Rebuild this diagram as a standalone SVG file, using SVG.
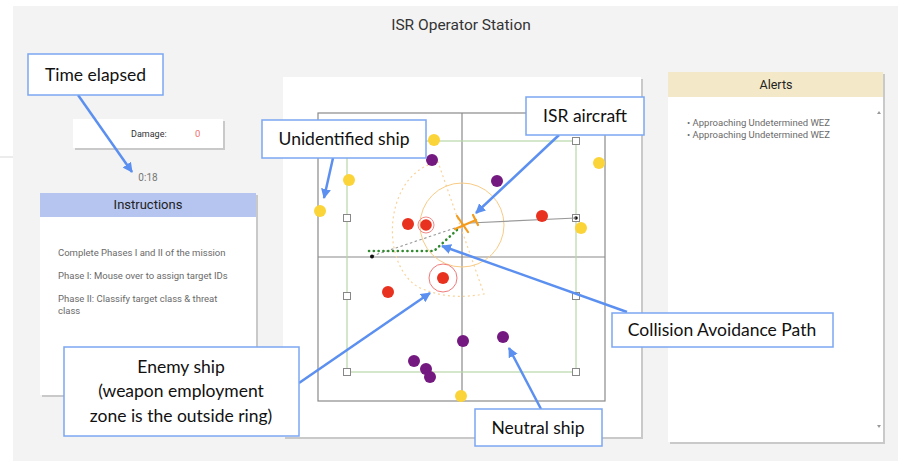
<svg xmlns="http://www.w3.org/2000/svg" width="898" height="466" viewBox="0 0 898 466">
<defs>
<marker id="ah" markerWidth="10" markerHeight="10" refX="9" refY="5" orient="auto" markerUnits="userSpaceOnUse">
<path d="M0,0 L10,5 L0,10 Z" fill="#5b8ff0"/>
</marker>
<style>
.ui{font-family:Roboto,"Liberation Sans",sans-serif}
.co{font-family:Lato,"Open Sans","Liberation Sans",sans-serif;font-size:17.5px;fill:#111}
.box{fill:#fff;stroke:#7ba7f2;stroke-width:1.5}
.arr{stroke:#5b8ff0;stroke-width:2.5;fill:none;marker-end:url(#ah)}
.sh{fill:#c9c9c9}
.grid{stroke:#8a8a8a;stroke-width:1.2;fill:none}
.gr{stroke:#b9d8a9;stroke-width:1.2;fill:none}
.sq{fill:#fff;stroke:#888;stroke-width:1}
.y{fill:#fbd43a}.p{fill:#73197f}.r{fill:#e8311f}
.gd{stroke:#2f8a2f;stroke-width:2.6;stroke-dasharray:0.1 4.7;stroke-linecap:round;fill:none}
.it{font-size:9.5px;fill:#6a6a6a}
</style>
</defs>
<rect x="0" y="0" width="898" height="466" fill="#fff"/>
<rect x="13" y="6" width="885" height="455" fill="#f3f3f3"/>
<line x1="0" y1="157" x2="13" y2="157" stroke="#ececec" stroke-width="2"/>

<g id="title"><text class="ui" x="461" y="30" font-size="15.5" fill="#333" text-anchor="middle">ISR Operator Station</text></g>

<g id="damage">
<rect class="sh" x="75" y="121" width="150" height="29"/>
<rect x="73" y="119" width="150" height="29" fill="#fff"/>
<text class="ui" x="131" y="137" font-size="9" fill="#333">Damage:</text>
<text class="ui" x="195" y="137" font-size="9.5" fill="#f0706a">0</text>
</g>
<g id="timer"><text class="ui" x="148" y="181" font-size="10" fill="#777" text-anchor="middle">0:18</text></g>

<g id="instructions">
<rect class="sh" x="42" y="195" width="216" height="202"/>
<rect x="40" y="193" width="216" height="202" fill="#fff"/>
<rect x="40" y="193" width="216" height="24" fill="#b6c5f0"/>
<text class="ui" x="148" y="209" font-size="13" fill="#222" text-anchor="middle">Instructions</text>
<text class="ui it" x="58" y="256">Complete Phases I and II of the mission</text>
<text class="ui it" x="58" y="279">Phase I: Mouse over to assign target IDs</text>
<text class="ui it" x="58" y="302">Phase II: Classify target class &amp; threat</text>
<text class="ui it" x="58" y="314">class</text>
</g>

<g id="alerts">
<rect class="sh" x="670" y="74" width="215" height="370"/>
<rect x="668" y="72" width="215" height="370" fill="#fff"/>
<rect x="668" y="72" width="215" height="25" fill="#f3e8c8"/>
<text class="ui" x="776" y="89" font-size="12.5" fill="#222" text-anchor="middle">Alerts</text>
<text class="ui" x="687" y="126" font-size="9.5" fill="#6a6a6a">• Approaching Undetermined WEZ</text>
<text class="ui" x="687" y="138" font-size="9.5" fill="#6a6a6a">• Approaching Undetermined WEZ</text>
<path d="M877,114 L879,111 L881,114 Z" fill="#999"/>
<path d="M877,425 L879,428 L881,425 Z" fill="#999"/>
</g>

<g id="map">
<rect class="sh" x="285" y="79" width="358" height="360"/>
<rect x="283" y="77" width="358" height="360" fill="#fff"/>
<rect class="grid" x="318" y="113" width="287" height="288"/>
<line class="grid" x1="318" y1="257" x2="605" y2="257"/>
<line class="grid" x1="462" y1="113" x2="462" y2="401"/>
<rect class="gr" x="347" y="141" width="229" height="231"/>
<rect class="sq" x="343.5" y="214.5" width="7" height="7"/>
<rect class="sq" x="343.5" y="292.5" width="7" height="7"/>
<rect class="sq" x="343.5" y="368.5" width="7" height="7"/>
<rect class="sq" x="572.5" y="137.5" width="7" height="7"/>
<rect class="sq" x="572.5" y="214.5" width="7" height="7"/>
<rect class="sq" x="572.5" y="292.5" width="7" height="7"/>
<rect class="sq" x="572.5" y="368.5" width="7" height="7"/>
<circle cx="576" cy="218" r="1.8" fill="#111"/>
<path d="M438,162 C385,172 378,262 418,287 Q448,301 484,294 Z" fill="none" stroke="#f9d39c" stroke-width="1.2" stroke-dasharray="2 3"/>
<circle cx="462" cy="225" r="42" fill="none" stroke="#f8cb85" stroke-width="1"/>
<line x1="470" y1="223" x2="576" y2="218" stroke="#999" stroke-width="1.2"/>
<line x1="372" y1="256" x2="455" y2="228" stroke="#999" stroke-width="1.1" stroke-dasharray="2.5 2.5"/>
<circle cx="372" cy="256.5" r="2" fill="#111"/>
<path class="gd" d="M369,251 L434,251 L458,229"/>
<g stroke="#f39c1e" stroke-width="2.2" fill="none" stroke-linecap="round">
<line x1="457" y1="216" x2="468" y2="232"/>
<line x1="455" y1="229" x2="476" y2="220"/>
<line x1="473" y1="215" x2="478" y2="225"/>
</g>
<circle class="r" cx="408" cy="224" r="6"/>
<circle cx="426" cy="225" r="8" fill="none" stroke="#f08a8a" stroke-width="1"/>
<circle class="r" cx="426" cy="225" r="5.8"/>
<circle class="r" cx="542" cy="216" r="6"/>
<circle class="r" cx="388" cy="292" r="6"/>
<circle cx="443" cy="278" r="14" fill="none" stroke="#f07a7a" stroke-width="1"/>
<circle class="r" cx="443" cy="278" r="6"/>
<circle class="y" cx="434" cy="140" r="6"/>
<circle class="y" cx="349" cy="180" r="6"/>
<circle class="y" cx="320" cy="211" r="6"/>
<circle class="y" cx="599" cy="163" r="6"/>
<circle class="y" cx="581" cy="228" r="6"/>
<circle class="y" cx="461" cy="396" r="6"/>
<circle class="p" cx="432" cy="160" r="6"/>
<circle class="p" cx="497" cy="181" r="6"/>
<circle class="p" cx="463" cy="341" r="6"/>
<circle class="p" cx="414" cy="361" r="6"/>
<circle class="p" cx="426" cy="369" r="6"/>
<circle class="p" cx="430" cy="377" r="6"/>
<circle class="p" cx="503" cy="337" r="6"/>
</g>

<g id="connectors">
<line class="arr" x1="78" y1="95" x2="132" y2="172"/>
<line class="arr" x1="333" y1="158" x2="324" y2="198"/>
<line class="arr" x1="559" y1="135" x2="476" y2="213"/>
<line class="arr" x1="627" y1="312" x2="442" y2="246"/>
<line class="arr" x1="541" y1="409" x2="509" y2="348"/>
<line class="arr" x1="299" y1="383" x2="430" y2="293"/>
</g>

<g id="callout-time"><rect class="box" x="28" y="54" width="135" height="41"/><text class="co" x="95.5" y="81" text-anchor="middle">Time elapsed</text></g>
<g id="callout-unidentified"><rect class="box" x="262" y="120" width="164" height="38"/><text class="co" x="344" y="145" text-anchor="middle">Unidentified ship</text></g>
<g id="callout-isr"><rect class="box" x="526" y="97" width="118" height="38"/><text class="co" x="585" y="122" text-anchor="middle">ISR aircraft</text></g>
<g id="callout-collision"><rect class="box" x="612" y="313" width="221" height="34"/><text class="co" x="722" y="336" text-anchor="middle">Collision Avoidance Path</text></g>
<g id="callout-neutral"><rect class="box" x="475" y="409" width="127" height="37"/><text class="co" x="538" y="434" text-anchor="middle">Neutral ship</text></g>
<g id="callout-enemy"><rect class="box" x="64" y="347" width="235" height="89"/>
<text class="co" x="181" y="373" text-anchor="middle">Enemy ship</text>
<text class="co" x="181" y="397" text-anchor="middle">(weapon employment</text>
<text class="co" x="181" y="422" text-anchor="middle">zone is the outside ring)</text></g>
</svg>
